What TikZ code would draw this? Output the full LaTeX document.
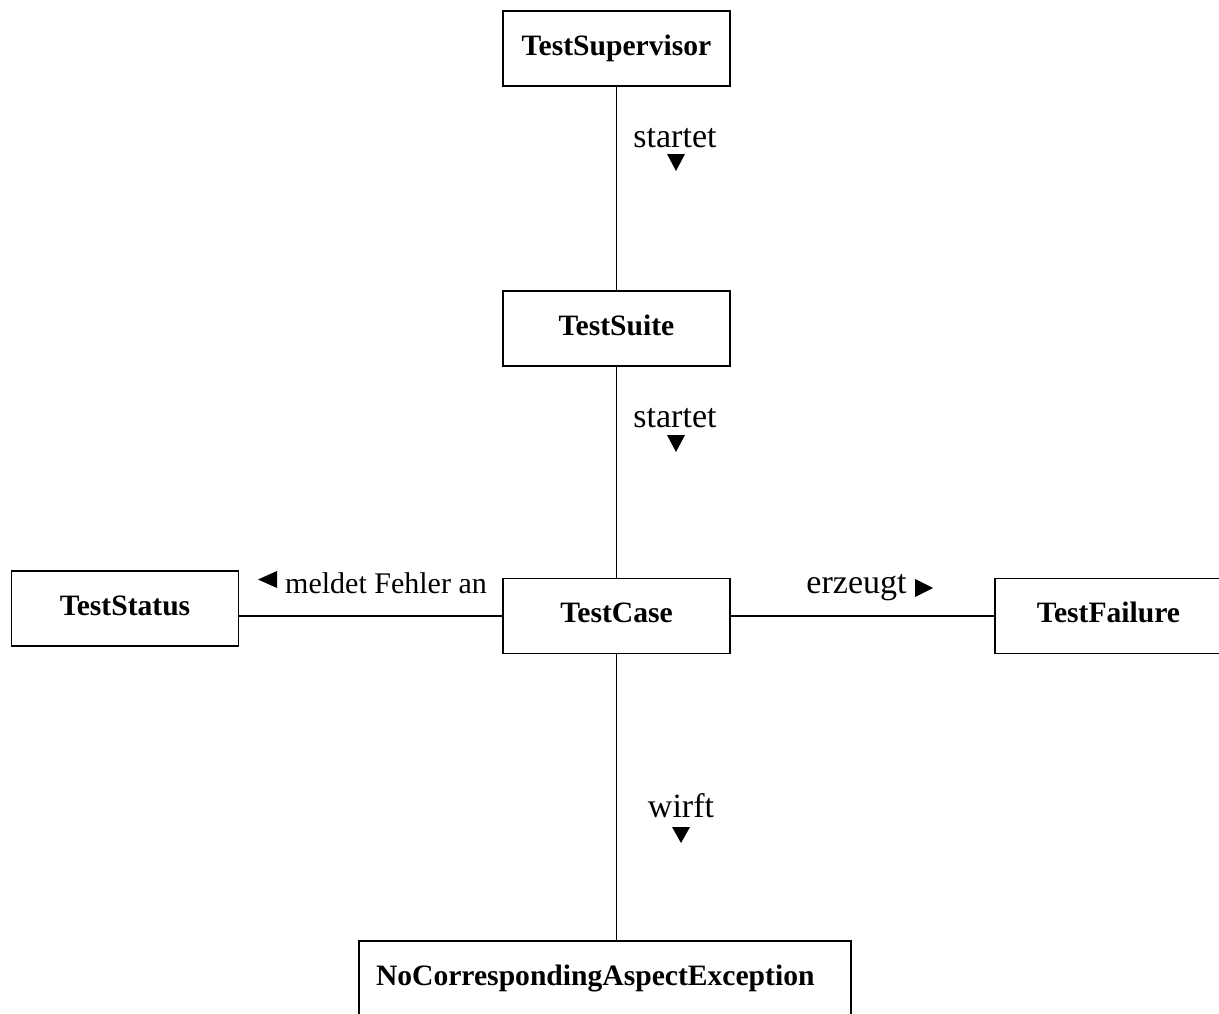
\documentclass[tikz,border=0pt]{standalone}
\usepackage{fontspec}
\setmainfont{Liberation Serif}
\begin{document}
\begin{tikzpicture}[x=0.75pt,y=-0.75pt,
  cls/.style={draw=black, line width=0.8pt, inner sep=0pt,
    minimum width=170.25pt, minimum height=56.25pt,
    font=\fontsize{22.2}{26}\selectfont\bfseries,
    text height=15pt, text depth=5pt},
  assoc/.style={draw=black, line width=0.8pt},
  rel/.style={font=\fontsize{25.5}{30}\selectfont, inner sep=0pt, anchor=base},
  dirmark/.style={fill=black}]
\useasboundingbox (0,0) rectangle (1219,1013);

% classes
\node[cls] (sup)     at (616.5,48.5)  {TestSupervisor};
\node[cls] (suite)   at (616.5,328.5) {TestSuite};
\node[cls] (case)    at (616.5,616)   {TestCase};
\node[cls] (status)  at (125,608.5)   {TestStatus};
\node[cls] (failure) at (1108.5,616)  {TestFailure};
\node[cls, text width=343.5pt, inner xsep=12.75pt, align=left]
  (exc) at (605,978.5) {NoCorrespondingAspectException};

% associations
\draw[assoc] (sup) -- (suite);
\draw[assoc] (suite) -- (case);
\draw[assoc] (case.south) -- (case.south |- exc.north);
\draw[assoc] (case.west) -- (case.west -| status.east);
\draw[assoc] (case.east) -- (failure.west);

% association names with reading direction
\node[rel] (startA) at (675,147) {startet};
\fill[dirmark] (667,154) -- (685,154) -- (676,171) -- cycle;
\node[rel] (startB) at (675,427) {startet};
\fill[dirmark] (667,435) -- (685,435) -- (676,452) -- cycle;
\node[rel] (throws) at (681,817) {wirft};
\fill[dirmark] (672,827) -- (690,827) -- (681,843) -- cycle;
\node[rel] (creates) at (856.5,593) {erzeugt};
\fill[dirmark] (915,579) -- (933,588) -- (915,597) -- cycle;
\node[rel, font=\fontsize{22.5}{27}\selectfont] (reports) at (386,593) {meldet Fehler an};
\fill[dirmark] (277,571) -- (277,588) -- (258,579.5) -- cycle;
\end{tikzpicture}
\end{document}
